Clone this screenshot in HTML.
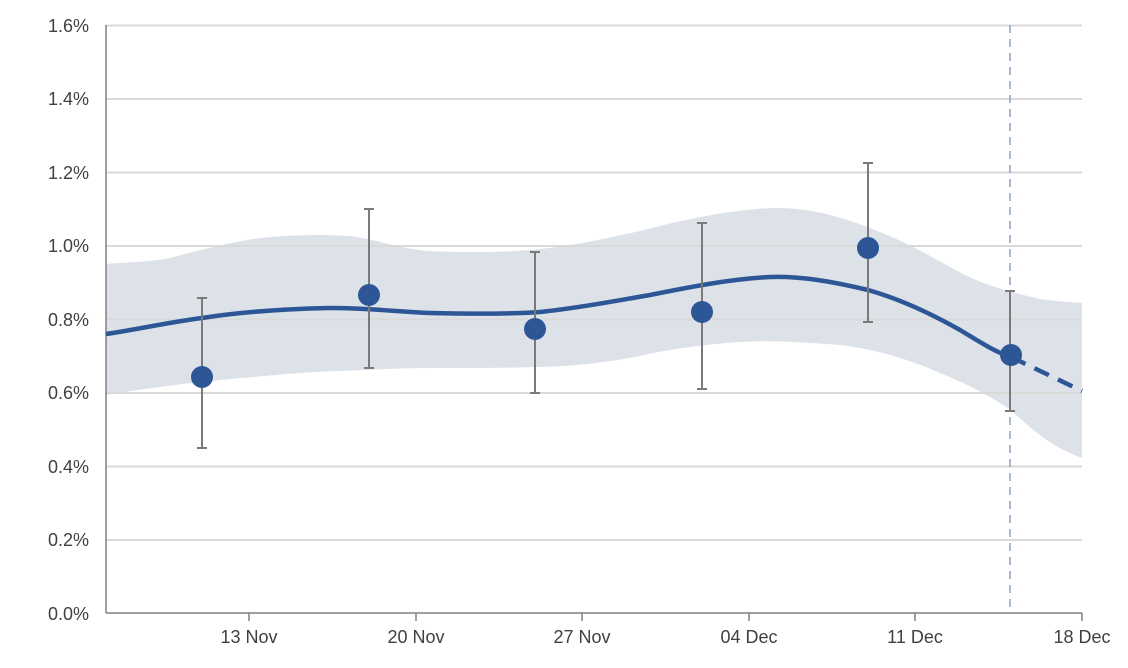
<!DOCTYPE html>
<html><head><meta charset="utf-8"><style>
body{margin:0;background:#fff}
svg text{font-family:"Liberation Sans",sans-serif;font-size:18px;fill:#404040}
</style></head><body>
<svg width="1128" height="663" viewBox="0 0 1128 663" xmlns="http://www.w3.org/2000/svg">
<path d="M106,264 C130,262 150,262 170,258 C200,250 230,242 260,238 C290,235 320,234 350,236 C380,240 400,249 430,251 C470,253 510,252 540,249 C570,246 600,240 640,231 C690,218 740,208 780,208 C820,209 850,220 880,232 C915,246 940,262 965,275 C990,287 1011,292 1040,299 C1060,302 1075,302 1082,303 L1082,458 C1060,450 1040,438 1011,410 C985,393 965,383 940,373 C910,360 880,350 840,345 C800,342 770,340 740,342 C700,345 670,349 640,356 C610,362 580,366 540,367 C500,368 460,368 430,368 C400,368 370,370 340,371 C300,372 270,376 240,378 C200,382 160,386 106,395 Z" fill="#dde2e9"/>
<g stroke="#d9d9d9" stroke-width="2">
<line x1="106" y1="25.5" x2="1082" y2="25.5"/><line x1="106" y1="99" x2="1082" y2="99"/>
<line x1="106" y1="172.5" x2="1082" y2="172.5"/><line x1="106" y1="246" x2="1082" y2="246"/>
<line x1="106" y1="319.5" x2="1082" y2="319.5"/><line x1="106" y1="393" x2="1082" y2="393"/>
<line x1="106" y1="466.5" x2="1082" y2="466.5"/><line x1="106" y1="540" x2="1082" y2="540"/>
</g>
<g stroke="#808080" stroke-width="1.5">
<line x1="106" y1="25" x2="106" y2="613"/><line x1="106" y1="613" x2="1082" y2="613"/>
<line x1="249" y1="613" x2="249" y2="621"/><line x1="416" y1="613" x2="416" y2="621"/>
<line x1="582" y1="613" x2="582" y2="621"/><line x1="749" y1="613" x2="749" y2="621"/>
<line x1="915" y1="613" x2="915" y2="621"/><line x1="1082" y1="613" x2="1082" y2="621"/>
</g>
<line x1="1010" y1="25" x2="1010" y2="613" stroke="#8fa3c0" stroke-width="1.5" stroke-dasharray="8,6"/>
<path d="M106,334 C140,329 170,322 202,318 C240,312 280,309 330,308 C370,308 400,312 430,313 C470,314 510,314 540,312 C580,308 620,300 650,295 C690,287 730,279 770,277 C800,276 830,281 868,290 C900,299 930,313 960,330 C980,342 995,352 1011,357" fill="none" stroke="#2d5697" stroke-width="4.5"/>
<path d="M1011,357 L1082,391" fill="none" stroke="#2d5697" stroke-width="4.5" stroke-dasharray="16,10"/>
<g stroke="#7a7a7a" stroke-width="2">
<path d="M202,298V448M197,298H207M197,448H207"/>
<path d="M369,209V368M364,209H374M364,368H374"/>
<path d="M535,252V393M530,252H540M530,393H540"/>
<path d="M702,223V389M697,223H707M697,389H707"/>
<path d="M868,163V322M863,163H873M863,322H873"/>
<path d="M1010,291V411M1005,291H1015M1005,411H1015"/>
</g>
<g fill="#2d5697">
<circle cx="202" cy="377" r="11"/><circle cx="369" cy="295" r="11"/>
<circle cx="535" cy="329" r="11"/><circle cx="702" cy="312" r="11"/>
<circle cx="868" cy="248" r="11"/><circle cx="1011" cy="355" r="11"/>
</g>
<g text-anchor="end">
<text x="89" y="32">1.6%</text><text x="89" y="105">1.4%</text>
<text x="89" y="179">1.2%</text><text x="89" y="252">1.0%</text>
<text x="89" y="326">0.8%</text><text x="89" y="399">0.6%</text>
<text x="89" y="473">0.4%</text><text x="89" y="546">0.2%</text>
<text x="89" y="620">0.0%</text>
</g>
<g text-anchor="middle">
<text x="249" y="643">13 Nov</text><text x="416" y="643">20 Nov</text>
<text x="582" y="643">27 Nov</text><text x="749" y="643">04 Dec</text>
<text x="915" y="643">11 Dec</text><text x="1082" y="643">18 Dec</text>
</g>
</svg>
</body></html>
